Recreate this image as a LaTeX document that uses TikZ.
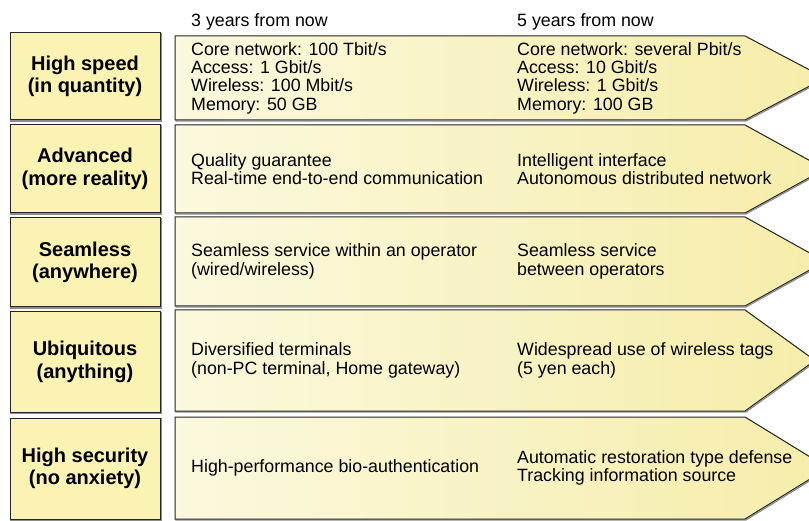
\documentclass[tikz,border=0pt]{standalone}
\usepackage{fontspec}
\setmainfont{Liberation Sans}
\begin{document}
\begin{tikzpicture}[x=1pt,y=-1pt,
  labelbox/.style={draw=black!85, line width=1pt, fill=labelfill},
  shade/.style={draw=black!45, line width=1.2pt},
  arrowbox/.style={draw=black!85, line width=1pt, left color=arrowleft, right color=arrowright},
  celltext/.style={anchor=west, align=left, inner sep=0pt, font=\fontsize{17.8}{18.3}\selectfont},
  headtext/.style={anchor=base west, inner sep=0pt, font=\fontsize{17.8}{18.3}\selectfont},
  labeltext/.style={align=center, inner sep=0pt, font=\fontsize{20}{22.5}\selectfont\bfseries}
]
\definecolor{labelfill}{RGB}{250,243,180}
\definecolor{arrowleft}{RGB}{251,249,222}
\definecolor{arrowright}{RGB}{246,237,170}
\useasboundingbox (0,0) rectangle (809,521);
\clip (0,0) rectangle (809,521);
\fill[white] (0,0) rectangle (809,521);

% column headings
\node[headtext] (h3) at (191,27) {3 years from now};
\node[headtext] (h5) at (517,27) {5 years from now};

% one row: left label box and a pentagon arrow
% #1 label-top #2 label-bottom #3 arrow-top #4 arrow-bottom #5 tip x
\newcommand\rowshape[5]{%
  \draw[shade] (11,#1+1) rectangle (161,#2+1);
  \draw[labelbox] (10,#1) rectangle (160,#2);
  \draw[shade] (176,#3+1) -- (746,#3+1) -- (#5+1,{(#3+#4)/2+1}) -- (746,#4+1) -- (176,#4+1) -- cycle;
  \draw[arrowbox] (175,#3) -- (745,#3) -- (#5,{(#3+#4)/2}) -- (745,#4) -- (175,#4) -- cycle;
}

\rowshape{33}{120}{36}{120}{825}
\rowshape{125}{213}{125}{213}{825}
\rowshape{218}{307}{217}{306}{825}
\rowshape{312}{412}{310}{411}{815}
\rowshape{418}{519}{417}{519}{828}

% row labels
\node[labeltext] (l1) at (85,76.5) {High speed\\(in quantity)};
\node[labeltext] (l2) at (85,169) {Advanced\\(more reality)};
\node[labeltext] (l3) at (85,262.5) {Seamless\\(anywhere)};
\node[labeltext] (l4) at (85,362) {Ubiquitous\\(anything)};
\node[labeltext] (l5) at (85,468.5) {High security\\(no anxiety)};

% 3 years from now
\node[celltext] (a1) at (191,78) {Core network: 100 Tbit/s\\Access: 1 Gbit/s\\Wireless: 100 Mbit/s\\Memory: 50 GB};
\node[celltext] (a2) at (191,169) {Quality guarantee\\Real-time end-to-end communication};
\node[celltext] (a3) at (191,261.5) {Seamless service within an operator\\(wired/wireless)};
\node[celltext] (a4) at (191,360.5) {Diversified terminals\\(non-PC terminal, Home gateway)};
\node[celltext] (a5) at (191,468) {High-performance bio-authentication};

% 5 years from now
\node[celltext] (b1) at (517,78) {Core network: several Pbit/s\\Access: 10 Gbit/s\\Wireless: 1 Gbit/s\\Memory: 100 GB};
\node[celltext] (b2) at (517,169) {Intelligent interface\\Autonomous distributed network};
\node[celltext] (b3) at (517,261.5) {Seamless service\\between operators};
\node[celltext] (b4) at (517,360.5) {Widespread use of wireless tags\\(5 yen each)};
\node[celltext] (b5) at (517,468) {Automatic restoration type defense\\Tracking information source};
\end{tikzpicture}
\end{document}
